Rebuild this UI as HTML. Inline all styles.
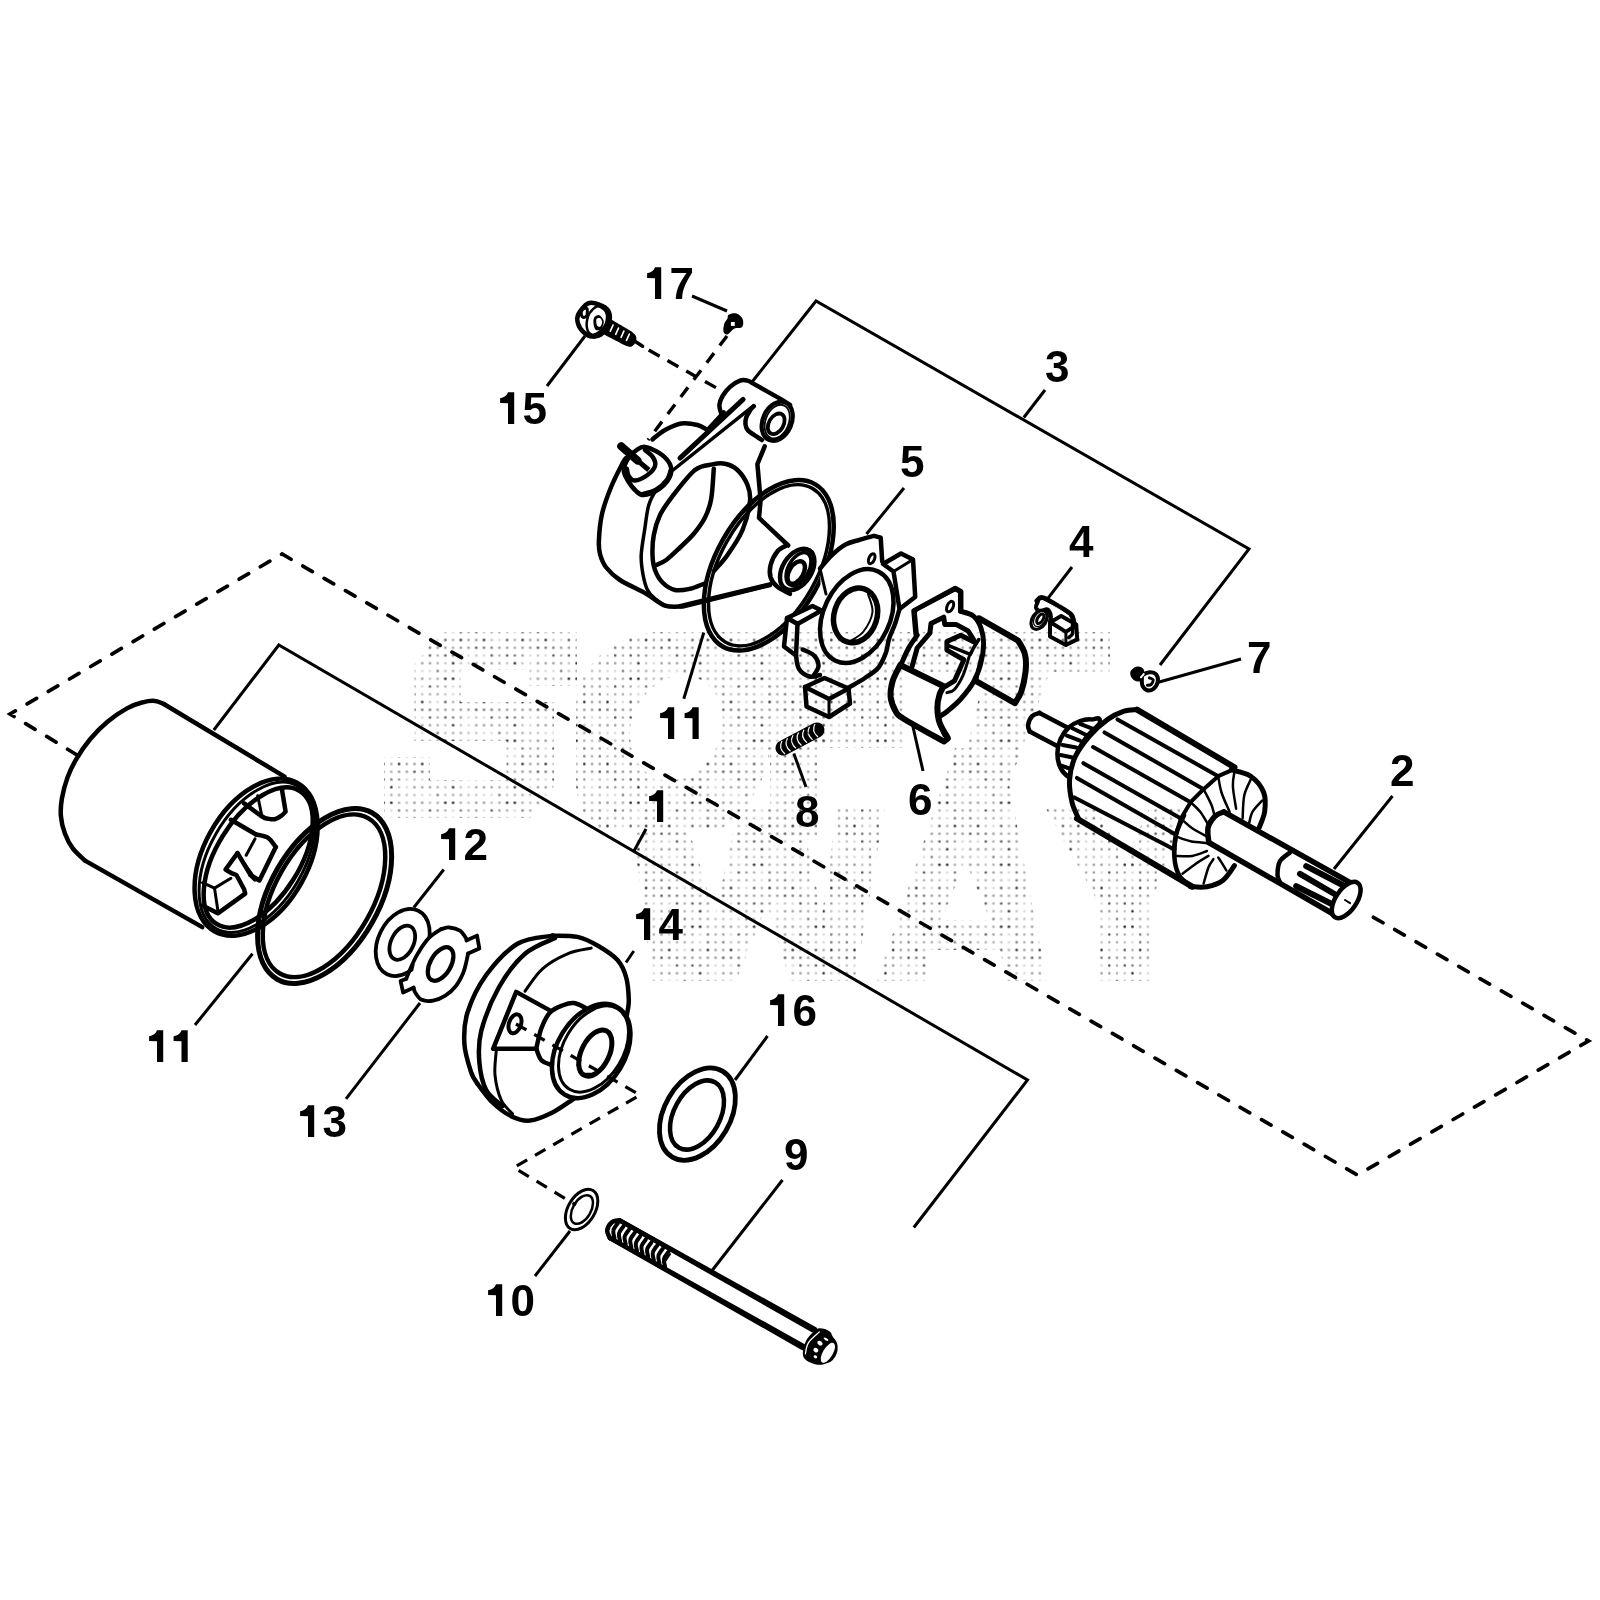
<!DOCTYPE html>
<html><head><meta charset="utf-8"><style>
html,body{margin:0;padding:0;background:#fff;}
svg{display:block;}
.lb{font-family:"Liberation Sans",sans-serif;font-weight:bold;font-size:44px;fill:#000;}
.ld{stroke:#000;stroke-width:3;fill:none;}
.ds{stroke:#000;stroke-width:3.5;fill:none;stroke-dasharray:15 9;}
.f{fill:#fff;stroke:none;}
.p{stroke:#000;stroke-width:4.5;fill:#fff;stroke-linejoin:round;stroke-linecap:round;}
.pn{stroke:#000;stroke-width:4.5;fill:none;stroke-linejoin:round;stroke-linecap:round;}
.pk{stroke:#000;stroke-width:6;fill:none;stroke-linejoin:round;stroke-linecap:round;}
.t{stroke:#000;stroke-width:3;fill:none;stroke-linecap:round;stroke-linejoin:round;}
.th{stroke:#000;stroke-width:2;fill:none;stroke-linecap:round;}
.bk{fill:#000;stroke:none;}
</style></head><body>
<svg width="1600" height="1600" viewBox="0 0 1600 1600">
<g id="dash">
<path class="ds" d="M77,755 L10,714 L282,554 L1357.5,1175 L1588.5,1041 L1366,913" style="stroke-linecap:round;stroke-dasharray:11 13.6;stroke-width:3.7"/>
</g>
<g id="cyl">
<path class="f" d="M85,860.6 L72.8,848.4 L64.9,833.5 L60.9,816 L61.9,798.5 L67.5,777.5 L76.3,759.1 L90.3,739 L107.8,721.5 L127,708.4 L142.8,702.3 L155,700.9 L163.8,704 L284.5,776.6 L256,857 L202.3,927.1 L85,860.6Z" />
<path class="pn" d="M85,860.6 C83,858.6 76.1,852.9 72.8,848.4 C69.4,843.9 66.9,838.9 64.9,833.5 C62.9,828.1 61.3,821.8 60.9,816 C60.4,810.2 60.8,804.9 61.9,798.5 C63,792.1 65.1,784.1 67.5,777.5 C69.9,770.9 72.5,765.5 76.3,759.1 C80,752.7 85,745.3 90.3,739 C95.5,732.7 101.6,726.6 107.8,721.5 C113.9,716.4 121.2,711.6 127,708.4 C132.8,705.2 138.1,703.5 142.8,702.3 C147.4,701 151.5,700.6 155,700.9 C158.5,701.1 162.3,703.5 163.8,704" />
<path class="pn" d="M163.8,704 L284.5,776.6" />
<path class="pn" d="M202.3,927.1 L85,860.6" />
<ellipse class="p" cx="256.1" cy="857.2" rx="85.1" ry="52.1" transform="rotate(119.1 256.1 857.2)" style="stroke-width:4.5"/>
<ellipse class="pn" cx="257" cy="857.3" rx="82.1" ry="47.3" transform="rotate(119.9 257 857.3)" style="stroke-width:3"/>
<ellipse class="pn" cx="258.2" cy="857.5" rx="78.4" ry="41.5" transform="rotate(122.1 258.2 857.5)" style="stroke-width:4.5"/>
<path class="pn" d="M244.1,803.4 C247.1,805.5 258.1,813.9 262.1,816.5 C266.1,819 266,818.2 268.1,818.7 C270.2,819.1 272.5,819.7 274.7,819.2 C276.9,818.8 279.4,817.2 281.2,815.9 C283.1,814.7 284.9,812.3 285.6,811.6 L281.7953625724598,788.5934594771957" />
<path class="t" d="M257.7,795.7 L261.6,814.8" />
<path class="pn" d="M230.9,819.8 L256.1,834.5 " />
<path class="pn" d="M256.1,834.5 C258.1,835.1 264.8,835.7 268.1,837.8 C271.4,839.9 274.5,845.6 275.8,847.1" />
<path class="pn" d="M275.8,847.1 L259.4,880.5 L250.6,875" />
<path class="t" d="M255,838.9 L246.2,855.3" />
<path class="pn" d="M237.5,853.1 L225.5,869.5 L230.9,872.8 L236.4,875 L244.1,889.2 L245.2,893.6 L217.8,913.3 L202.5,905.6" />
<path class="pn" d="M237.5,853.1 L250.6,875 L255,879.4" />
<path class="t" d="M239.7,857.5 L251.7,873.9" />
<path class="t" d="M202.5,882.7 L214.5,888.1 L230.9,878.3" />
<path class="t" d="M214.5,888.1 L217.8,910" />
</g>
<g id="ring11b">
<ellipse class="pn" cx="324.6" cy="896" rx="95.8" ry="54.5" transform="rotate(119.7 324.6 896)" style="stroke-width:5"/>
<ellipse class="pn" cx="324" cy="895.8" rx="89.3" ry="48.9" transform="rotate(119.6 324 895.8)" style="stroke-width:4.5"/>
</g>
<g id="wash12">
<ellipse class="p" cx="402.7" cy="942.5" rx="35.4" ry="24.5" transform="rotate(116.3 402.7 942.5)" style="stroke-width:3.8"/>
<ellipse class="pn" cx="402.3" cy="942.7" rx="18.2" ry="11.2" transform="rotate(116.2 402.3 942.7)" style="stroke-width:3.8"/>
</g>
<g id="wash13">
<ellipse class="f" cx="439.6" cy="964" rx="38.8" ry="23.5" transform="rotate(114.6 439.6 964)" />
<path class="pn" d="M441.2,929.1 C442.6,928.9 446.3,927.2 449.4,927.5 C452.5,927.8 457.1,928.9 459.9,930.7 C462.8,932.6 465.4,937.5 466.4,938.9" style="stroke-width:3.8"/>
<path class="pn" d="M466.4,940.5 L477,935.6 L479.4,948.6 L468.1,953.5" style="stroke-width:3.8"/>
<path class="pn" d="M468.1,953.5 C467.8,954.9 467.2,958.4 466.4,961.6 C465.6,964.9 464.9,968.9 463.2,973 C461.4,977.1 458.9,982.2 455.9,986 C452.9,989.8 449.1,993.3 445.3,995.7 C441.5,998.2 437.1,999.9 433.1,1000.6 C429.2,1001.3 424.7,1001.2 421.7,999.8 C418.8,998.5 416.6,994.5 415.2,992.5 C413.9,990.5 413.9,988.4 413.6,987.6" style="stroke-width:3.8"/>
<path class="pn" d="M413.6,987.6 L403.1,992.5 L400.6,981.1 L406.3,978.7" style="stroke-width:3.8"/>
<path class="pn" d="M406.3,978.7 C406.9,977.3 407.8,974.5 409.6,970.6 C411.3,966.6 414,960.1 416.9,955.1 C419.7,950.1 423.6,944.2 426.6,940.5 C429.6,936.8 432.3,935.1 434.7,933.2 C437.2,931.3 440.2,929.8 441.2,929.1" style="stroke-width:3.8"/>
<ellipse class="pn" cx="440.6" cy="964" rx="18.4" ry="10.3" transform="rotate(120.1 440.6 964)" style="stroke-width:4.2"/>
</g>
<g id="cover14">
<path class="f" d="M552.5,935.6 C542.5,936.8 528.5,937.2 517.5,943.8 C506.5,950.3 494.6,963.5 486.2,975 C477.9,986.5 471.1,1001 467.5,1012.5 C463.9,1024 463.8,1033.8 464.4,1043.8 C465,1053.8 467.6,1063.1 471.2,1072.5 C474.9,1081.9 480.6,1092.9 486.2,1100 C491.9,1107.1 498.8,1111.7 505,1115 C511.2,1118.3 516.5,1120.4 523.8,1120 C531,1119.6 540.4,1116 548.8,1112.5 C557.1,1109 566.5,1101.9 573.8,1098.8 C581,1095.6 585.2,1098.1 592.5,1093.8 C599.8,1089.4 611.2,1081.9 617.5,1072.5 C623.8,1063.1 628.1,1049.6 630,1037.5 C631.9,1025.4 629.4,1010 628.8,1000 C628.1,990 628.1,984.2 626.2,977.5 C624.4,970.8 622.1,965.2 617.5,960 C612.9,954.8 605.4,950.1 598.8,946.2 C592.1,942.4 585.2,938.6 577.5,936.9 C569.8,935.1 562.5,934.5 552.5,935.6Z" />
<path class="pn" d="M552.5,935.6 C546.7,937 528.5,937.2 517.5,943.8 C506.5,950.3 494.6,963.5 486.2,975 C477.9,986.5 471.1,1001 467.5,1012.5 C463.9,1024 463.8,1033.8 464.4,1043.8 C465,1053.8 469.1,1065.8 471.2,1072.5 C473.4,1079.2 476.5,1081.9 477.5,1083.8" />
<path class="pn" d="M555,938.1 C550,940.7 534.4,945.5 525,953.8 C515.6,962 506,974.6 498.8,987.5 C491.5,1000.4 484.5,1018.8 481.2,1031.2 C478,1043.8 478.5,1052.7 479.4,1062.5 C480.2,1072.3 482.4,1082.7 486.2,1090 C490.1,1097.3 499.8,1103.5 502.5,1106.2" />
<path class="pn" d="M552.5,935.6 C556.7,935.8 569.8,935.1 577.5,936.9 C585.2,938.6 592.1,942.4 598.8,946.2 C605.4,950.1 612.9,954.8 617.5,960 C622.1,965.2 624.4,970.8 626.2,977.5 C628.1,984.2 628.6,993.8 628.8,1000 C628.9,1006.2 627.2,1012.5 626.9,1015" />
<path class="pn" d="M477.5,1083.8 C480,1086.9 486.9,1097.1 492.5,1102.5 C498.1,1107.9 505,1113.2 511.2,1116.2 C517.5,1119.3 523.1,1121.2 530,1120.6 C536.9,1120 545.2,1116.1 552.5,1112.5 C559.8,1108.9 570.2,1101 573.8,1098.8" />
<path class="t" d="M591.2,948.1 C587.3,949.1 575.6,950.3 567.5,953.8 C559.4,957.2 549.6,962.5 542.5,968.8 C535.4,975 527.9,987.5 525,991.2" />
<path class="t" d="M496.2,1051.2 C496,1055.2 494.2,1066.9 495,1075 C495.8,1083.1 498.3,1093.5 501.2,1100 C504.2,1106.5 510.6,1111.5 512.5,1113.8" />
<path class="p" d="M552.5,1011.9 L516.2,991.9 L493.1,1048.8 L536.2,1048.8" />
<ellipse class="pn" cx="515" cy="1023.8" rx="9.8" ry="6" transform="rotate(109.2 515 1023.8)" style="stroke-width:4"/>
<path class="p" d="M536.2,1048.8 C537.1,1045.4 539,1034.8 541.2,1028.8 C543.5,1022.7 546.2,1016.5 550,1012.5 C553.8,1008.5 559.8,1006.6 563.8,1005 C567.7,1003.4 570.2,1002.7 573.8,1003.1 C577.3,1003.5 583.1,1006.8 585,1007.5" />
<path class="pn" d="M536.2,1048.8 C537.1,1050.6 538.8,1057.3 541.2,1060 C543.8,1062.7 549.6,1064.2 551.2,1065" />
<ellipse class="p" cx="591.2" cy="1051" rx="51" ry="33.9" transform="rotate(121.3 591.2 1051)" />
<ellipse class="pn" cx="593.5" cy="1049" rx="46.9" ry="29.6" transform="rotate(120.9 593.5 1049)" style="stroke-width:3"/>
<ellipse class="pn" cx="595.3" cy="1053.1" rx="24.8" ry="13.9" transform="rotate(116.1 595.3 1053.1)" style="stroke-width:5"/>
<path class="pn" d="M578.1,1065 C578.9,1066.5 580.1,1072.2 582.5,1073.8 C584.9,1075.3 590.8,1074.3 592.5,1074.4" style="stroke-width:3.5"/>
<path class="ds" d="M516,1024 L640,1095 L513.8,1167.5 L576,1205" style="stroke-width:3.2;stroke-dasharray:12 9"/>
</g>
<g id="ring16">
<ellipse class="pn" cx="697.4" cy="1114.1" rx="49.8" ry="33" transform="rotate(120.3 697.4 1114.1)" style="stroke-width:4.8"/>
<ellipse class="pn" cx="697" cy="1115" rx="37.3" ry="23" transform="rotate(118.8 697 1115)" style="stroke-width:4.5"/>
</g>
<g id="clip10">
<ellipse class="pn" cx="581.6" cy="1209.5" rx="22.2" ry="13.4" transform="rotate(121 581.6 1209.5)" style="stroke-width:3"/>
<ellipse class="pn" cx="581.9" cy="1209.5" rx="15.7" ry="9" transform="rotate(120.2 581.9 1209.5)" style="stroke-width:2.5"/>
</g>
<g id="bolt9">
<path class="f" d="M619.4,1220.3 L812.5,1330 L805,1346.9 L610,1238.1Z" />
<path class="pn" d="M619.4,1220.3 L812.5,1330" />
<path class="pn" d="M610,1238.1 L805,1346.9" />
<path class="pn" d="M619.4,1220.3 C618.1,1220.6 613.9,1220.5 611.9,1222.2 C609.8,1223.9 607.5,1228 607.2,1230.6 C606.9,1233.3 609.5,1236.9 610,1238.1" />
<path class="th" d="M617.9,1223.1 C617.1,1224.3 613.9,1227.8 613.4,1230.3 C612.8,1232.8 614.3,1236.8 614.5,1238.1" style="stroke-width:4"/>
<path class="th" d="M623.5,1226.3 C622.8,1227.5 619.6,1230.9 619,1233.4 C618.4,1235.9 619.9,1240 620.1,1241.3" style="stroke-width:4"/>
<path class="th" d="M629.1,1229.5 C628.4,1230.7 625.2,1234.1 624.6,1236.6 C624.1,1239.1 625.6,1243.2 625.8,1244.5" style="stroke-width:4"/>
<path class="th" d="M634.8,1232.7 C634,1233.9 630.8,1237.3 630.3,1239.8 C629.7,1242.3 631.2,1246.4 631.4,1247.7" style="stroke-width:4"/>
<path class="th" d="M640.4,1235.9 C639.6,1237.1 636.4,1240.5 635.9,1243 C635.3,1245.5 636.8,1249.6 637,1250.9" style="stroke-width:4"/>
<path class="th" d="M646,1239.1 C645.3,1240.3 642.1,1243.7 641.5,1246.2 C640.9,1248.7 642.4,1252.8 642.6,1254.1" style="stroke-width:4"/>
<path class="th" d="M651.6,1242.3 C650.9,1243.4 647.7,1246.9 647.1,1249.4 C646.6,1251.9 648.1,1255.9 648.3,1257.3" style="stroke-width:4"/>
<path class="th" d="M657.3,1245.4 C656.5,1246.6 653.3,1250.1 652.8,1252.6 C652.2,1255.1 653.7,1259.1 653.9,1260.4" style="stroke-width:4"/>
<path class="th" d="M662.9,1248.6 C662.1,1249.8 658.9,1253.3 658.4,1255.8 C657.8,1258.3 659.3,1262.3 659.5,1263.6" style="stroke-width:4"/>
<path class="th" d="M668.5,1251.8 C667.8,1253 664.6,1256.4 664,1258.9 C663.4,1261.4 664.9,1265.5 665.1,1266.8" style="stroke-width:4"/>
<path class="th" d="M670,1254.1 L664.4,1262.5" />
<path class="pn" d="M619.4,1220.3 L815,1329.2" />
<path class="pn" d="M610,1238.1 L802.8,1348" />
<path class="bk" d="M802.8,1353.8 C802.8,1350.5 804.1,1344.6 806.2,1340.6 C808.4,1336.6 813,1331.7 815.9,1329.7 C818.8,1327.7 821.4,1328.4 823.8,1328.8 C826.1,1329.2 828.8,1330.7 830.3,1331.9 C831.8,1333.1 831.4,1334.4 832.5,1336.2 C833.6,1338.1 836.1,1340.2 836.9,1342.8 C837.7,1345.4 838,1348.7 837.3,1351.6 C836.6,1354.5 834.8,1358.2 832.5,1360.3 C830.2,1362.4 826.7,1363.6 823.8,1364.2 C820.8,1364.9 817.9,1364.9 815,1364.2 C812.1,1363.6 808.3,1362 806.2,1360.3 C804.2,1358.5 802.8,1357 802.8,1353.8Z" />
<ellipse class="f" cx="827.9" cy="1352.8" rx="11.3" ry="4.9" transform="rotate(121.2 827.9 1352.8)" />
<ellipse cx="820.0" cy="1343.2" rx="2.8" ry="2.0" fill="#fff" transform="rotate(30 820.0 1343.2)"/>
<ellipse cx="815.9" cy="1350.1" rx="2.6" ry="2.2" fill="#fff" transform="rotate(30 815.9 1350.1)"/>
<ellipse cx="815.4" cy="1356.8" rx="1.9" ry="1.4" fill="#fff" transform="rotate(30 815.4 1356.8)"/>
<ellipse cx="826.0" cy="1339.2" rx="2.7" ry="1.1" fill="#fff" transform="rotate(30 826.0 1339.2)"/>
<path class="th" d="M805.4,1353.8 C805.9,1351.9 806.1,1346.4 808.4,1342.8 C810.7,1339.2 817.6,1333.7 819.4,1331.9" style="stroke:#fff;stroke-width:1.3"/>
</g>
<g id="housing">
<path class="f" d="M725,395 L742.5,380 L780,400 L792.5,420 L775,443.8 L763.8,445 L757.5,463.8 L762.5,482.5 L757.5,517.5 L785,545 L787.5,545 L814.4,562.5 L790,593.8 L770,584.4 L682.5,606.2 L665,605.6 L646.2,593.8 L620,580 L606.2,567.5 L600,550 L600,527.5 L606.2,505 L615,480 L623.8,470 L637.5,445 L652.5,439.4 L681.2,423.5 L707.5,430Z" />
<path class="pn" d="M626,458 C625.4,458.9 625,458.6 622.5,463.4 C620,468.2 614.5,478.6 611.1,487 C607.7,495.4 604,505.1 602,514 C600,522.9 599.2,533.9 598.9,540.6 C598.6,547.3 598.8,549.5 600,554 C601.2,558.5 602.9,563.2 606.2,567.5 C609.6,571.8 613.3,575.6 620,580 C626.7,584.4 638.8,589.5 646.2,593.8 C653.8,598 659,603.5 665,605.6 C671,607.7 679.6,606.4 682.5,606.5 L770.0,585.0" />
<path class="pn" d="M652.5,439.4 C654.6,437.8 660.2,432.6 665,430 C669.8,427.4 675.8,424.3 681.2,423.5 C686.7,422.7 693.1,423.9 697.5,425 C701.9,426.1 705.8,429.2 707.5,430 L723.75,412.5" />
<path class="pn" d="M721.2,413.5 C720.9,412.1 719.2,407.9 719.4,405 C719.6,402.1 720.7,399.3 722.5,396.2 C724.3,393.2 727.1,389.5 730,386.9 C732.9,384.3 737.1,381.7 740,380.6 C742.9,379.6 745.4,380.2 747.5,380.6 C749.6,381 751.7,382.7 752.5,383.1 L781.25,399.4 L790,405" />
<ellipse class="p" cx="777.2" cy="421.2" rx="20.5" ry="14.4" transform="rotate(114 777.2 421.2)" style="stroke-width:4.2"/>
<ellipse class="pn" cx="777.2" cy="421.6" rx="17.5" ry="11.6" transform="rotate(111.8 777.2 421.6)" style="stroke-width:1.8"/>
<ellipse class="pn" cx="776.2" cy="423.8" rx="11.1" ry="7.3" transform="rotate(120.1 776.2 423.8)" style="stroke-width:3.8"/>
<path class="pn" d="M753.8,406.2 C753.1,407 751.2,408.7 750,410.6 C748.8,412.5 747,415.1 746.2,417.5 C745.5,419.9 745.3,422.8 745.6,425 C745.9,427.2 746.5,428.9 748.1,430.6 C749.7,432.4 752.7,433.9 755,435.5 C757.3,437.1 760.8,439.2 761.9,440" />
<path class="pn" d="M743.1,399.4 L680,458.1" style="stroke-width:5"/>
<path class="pn" d="M753.1,406.2 L670,472.5 L670,472.5 C667.7,475.4 659.8,484.6 656.2,490 C652.7,495.4 650.6,498.8 648.8,505 C646.9,511.2 646.2,519.2 645,527.5 C643.8,535.8 641.6,547.1 641.2,555 C640.9,562.9 642.1,569.2 643.1,575 C644.2,580.8 645.5,586 647.5,590 C649.5,594 652.1,596.1 655,598.8 C657.9,601.4 663.3,604.5 665,605.6" style="stroke-width:3.5"/>
<path class="p" d="M645,446.9 C648.1,447.2 652.7,449.3 656.2,451.2 C659.8,453.2 663.8,455.8 666.2,458.8 C668.8,461.7 670.9,465.2 671.2,468.8 C671.6,472.3 670.4,476.5 668.1,480 C665.8,483.5 661.6,487.5 657.5,490 C653.4,492.5 647.3,494.8 643.8,495 C640.2,495.2 639,493.8 636.2,491.2 C633.5,488.8 629.6,483.5 627.5,480 C625.4,476.5 623.5,473.8 623.8,470 C624,466.2 626.5,460.9 628.8,457.5 C631,454.1 634.8,451.1 637.5,449.4 C640.2,447.6 641.9,446.6 645,446.9Z" />
<path class="pn" d="M645,450 C646.4,451.2 651.5,454.8 653.1,457.5 C654.8,460.2 655.9,463.3 655,466.2 C654.1,469.2 650.8,472.6 647.5,475 C644.2,477.4 638.1,480.4 635,480.6 C631.9,480.8 630.1,478.2 628.8,476.2 C627.4,474.3 627.2,470 626.9,468.8" />
<path class="th" d="M641.2,493.1 C643.5,492.4 650.8,491.1 655,488.8 C659.2,486.4 663.9,481.9 666.2,478.8 C668.6,475.6 668.9,471.5 669.4,470" />
<path class="pn" d="M621.2,446.2 L637.5,460.6" style="stroke-width:8;stroke-linecap:round"/>
<path class="pn" d="M636.2,459.4 L648.8,470" style="stroke-width:5;stroke-linecap:butt"/>
<path class="pn" d="M703.8,583.8 C701.5,584.6 694.8,587.7 690,588.8 C685.2,589.8 679.6,591 675,590 C670.4,589 665.8,585.8 662.5,582.5 C659.2,579.2 656.7,574.6 655,570 C653.3,565.4 652.7,560.8 652.5,555 C652.3,549.2 652.5,541.7 653.8,535 C655,528.3 656.9,521.5 660,515 C663.1,508.5 666.7,503.8 672.5,496.2 C678.3,488.8 688.3,475.3 695,470 C701.7,464.7 707.5,465.4 712.5,464.4 C717.5,463.3 720.8,462.8 725,463.8 C729.2,464.7 733.8,466.5 737.5,470 C741.2,473.5 745.4,479.8 747.5,485 C749.6,490.2 750.8,493.8 750,501.2 C749.2,508.8 746.2,521 742.5,530 C738.8,539 732.3,548.1 727.5,555 C722.7,561.9 716,568.5 713.8,571.2" />
<path class="pn" d="M713.8,468.8 C713.3,473.8 712.7,490.6 711.2,498.8 C709.8,506.9 707.9,511.7 705,517.5 C702.1,523.3 697.9,528.8 693.8,533.8 C689.6,538.8 684.6,543.1 680,547.5 C675.4,551.9 670.2,557.1 666.2,560 C662.3,562.9 657.9,564.2 656.2,565" />
<path class="pn" d="M764.7,446.4 L757.4,464.2 L760.6,500 L759,517.9 L788.2,545.5" />
<path class="p" d="M787.5,545 C785.8,546 780.3,547.9 777.5,551.2 C774.7,554.6 771.8,560.6 770.6,565 C769.5,569.4 769.5,573.9 770.6,577.5 C771.8,581.1 774.3,584.2 777.5,586.9 C780.7,589.6 787.9,592.6 790,593.8" />
<path class="pn" d="M770,584.4 L680,606.2" />
<ellipse class="p" cx="797.2" cy="569.4" rx="22.6" ry="14.5" transform="rotate(122.2 797.2 569.4)" />
<ellipse class="pn" cx="798.5" cy="569" rx="17.9" ry="10.3" transform="rotate(118.7 798.5 569)" style="stroke-width:3.5"/>
<ellipse class="pn" cx="796.2" cy="572.5" rx="12.4" ry="7.1" transform="rotate(120.5 796.2 572.5)" style="stroke-width:4.5"/>
</g>
<g id="ring11t">
<ellipse class="pn" cx="768.8" cy="565.3" rx="93.4" ry="52.6" transform="rotate(119.6 768.8 565.3)" style="stroke-width:4.5"/>
<ellipse class="pn" cx="769" cy="565.3" rx="88.3" ry="48.4" transform="rotate(119.4 769 565.3)" style="stroke-width:3.5"/>
</g>
<g id="bolt15">
<path class="ds" d="M648.7,350.1 L705,381.6 L726.4,393.4" style="stroke-width:3.4;stroke-dasharray:12.5 9"/>
<path class="pn" d="M633,340 L642.6,346.2" style="stroke-width:3.5"/>
<path class="bk" d="M595.9,316.4 C597.5,314.9 600.2,314.1 603.7,315.2 C607.3,316.4 612.4,320.2 617.2,323.1 C622.1,326 629.8,330.1 633,332.7 C636.2,335.3 636.4,336.7 636.4,338.9 C636.4,341 634.5,344.4 633,345.6 C631.5,346.8 630.7,347.3 627.4,346.2 C624,345.1 617.6,341.4 612.7,338.9 C607.9,336.3 601.2,333.4 598.1,331 C595,328.6 594.6,326.7 594.2,324.2 C593.8,321.8 594.3,317.9 595.9,316.4Z" />
<path class="pn" d="M607.7,322 L604.9,328.2" style="stroke:#fff;stroke-width:1.6"/>
<path class="pn" d="M613.1,325 L610.3,331.2" style="stroke:#fff;stroke-width:1.6"/>
<path class="pn" d="M618.5,328.1 L615.7,334.3" style="stroke:#fff;stroke-width:1.6"/>
<path class="pn" d="M623.9,331.1 L621.1,337.3" style="stroke:#fff;stroke-width:1.6"/>
<path class="pn" d="M629.3,334.1 L626.5,340.3" style="stroke:#fff;stroke-width:1.6"/>
<path class="p" d="M588,303.4 C591.5,301.8 595.9,303.3 599.2,304.6 C602.6,305.8 606.6,308 608.2,310.7 C609.9,313.5 610.3,317.1 609.4,320.9 C608.4,324.6 605.4,330.6 602.6,333.2 C599.8,335.9 595.7,336.8 592.5,336.6 C589.3,336.4 585.9,334.4 583.5,332.1 C581.1,329.9 578.7,326.1 577.9,323.1 C577,320.1 576.7,317.4 578.4,314.1 C580.1,310.8 584.5,305 588,303.4Z" style="stroke-width:4.5"/>
<path class="pn" d="M598.1,306.2 C600.4,306.6 604.7,309.1 606,311.9 C607.3,314.7 607.1,319.7 606,323.1 C604.9,326.5 601.7,330.2 599.2,332.1 C596.8,334 593.4,335.1 591.4,334.4 C589.3,333.6 587.4,330.6 586.9,327.6 C586.3,324.6 587.1,319.4 588,316.4 C588.9,313.4 590.8,311.3 592.5,309.6 C594.2,307.9 595.9,305.9 598.1,306.2Z" style="stroke-width:2.5"/>
<path class="pn" d="M582.4,309.6 C583.3,308.7 586.1,307.6 586.9,308.5 C587.6,309.4 587.4,313.7 586.9,315.2 C586.3,316.7 584.4,317.7 583.5,317.5 C582.6,317.3 581.4,315.4 581.2,314.1 C581.1,312.8 581.4,310.6 582.4,309.6Z" style="stroke-width:3"/>
<path class="bk" d="M594.2,317.5 C595.1,316 597.7,314.7 599.2,315.2 C600.8,315.8 603.4,318.6 603.7,320.9 C604.1,323.1 602.8,327.2 601.5,328.7 C600.2,330.2 597.2,330.6 595.9,329.9 C594.6,329.1 593.9,326.3 593.6,324.2 C593.3,322.2 593.2,319 594.2,317.5Z" />
<path class="f" d="M596.4,319.2 C596.9,318 598.9,317.6 599.8,318.1 C600.7,318.5 602,320.6 602.1,322 C602.2,323.4 601.2,325.9 600.4,326.5 C599.5,327.1 597.7,326.6 597,325.4 C596.3,324.2 596,320.4 596.4,319.2Z" />
</g>
<g id="screw17">
<path class="ds" d="M727,336 L648,440" style="stroke-width:3.4;stroke-dasharray:12 9.5"/>
<path class="bk" d="M728.6,314.7 C730.1,313.8 734.2,312.8 736.5,313.6 C738.8,314.3 741.7,316.9 742.7,319.2 C743.6,321.4 743.5,325.5 742.1,327.1 C740.7,328.7 736.7,327.5 734.2,328.7 C731.8,330 729.3,333.8 727.5,334.4 C725.7,334.9 724.1,333.8 723.6,332.1 C723,330.4 723.5,326.5 724.1,324.2 C724.8,322 726.7,320.2 727.5,318.6 C728.2,317 727.1,315.5 728.6,314.7Z" />
<path class="f" d="M730.9,322 L734.8,322 L734.8,325.9 L730.9,325.9Z" />
</g>
<g id="plate5">
<path class="f" d="M820,568.5 L842.5,546 L859,540 L874,535.5 L880.7,537.7 L882.2,561.7 L901,553.5 L913,559.5 L915.2,597 L899.5,609 L889,639 L886,652.5 L880,667.5 L859,681 L848.5,688.5 L829,699 L805,687 L811,678 L800.5,673.5 L796,655.5 L784,646.5 L787,618 L812.5,606 L821.5,607.5Z" />
<path class="pn" d="M820,568.5 C822,566.2 827.7,559 832,555 C836.2,551 841,547 845.5,544.5 C850,542 854.2,541.4 859,540 C863.7,538.5 871.5,536.5 874,535.8 L874,535.8 L880.7,537.7 L882.2,561.7" />
<path class="t" d="M820,568.5 L826,594" />
<path class="p" d="M883,564 L901,553.5 L913,559.5 L915.2,597 L899.5,609 L893.5,571.5Z" />
<path class="t" d="M893.5,571.5 L913,559.5" />
<path class="pn" d="M899.5,609 C898.7,611.5 896.7,619 895,624 C893.2,629 890.5,634.2 889,639 C887.5,643.7 887.7,647.7 886,652.5 C884.2,657.2 882,663.2 878.5,667.5 C875,671.7 870,674.6 865,678 C860,681.4 851.2,686.1 848.5,687.7" />
<path class="p" d="M787,618 L812.5,606 L821.5,610.5 L797.5,624Z" />
<path class="p" d="M787,618 L784,646.5 L796,655.5 L797.5,624Z" />
<path class="pn" d="M796,655.5 C796.5,657.7 796.7,665.5 799,669 C801.2,672.5 806,675.5 809.5,676.5 C813,677.5 818.2,675.2 820,675" />
<path class="pn" d="M802.7,649.5 C804.6,650.5 811.4,652.7 814,655.5 C816.6,658.2 818.5,662.7 818.5,666 C818.5,669.2 814.7,673.5 814,675" />
<ellipse class="p" cx="856.8" cy="616.1" rx="49.5" ry="33.1" transform="rotate(115.6 856.8 616.1)" />
<ellipse class="pn" cx="855.6" cy="615.4" rx="27.9" ry="21.4" transform="rotate(107.7 855.6 615.4)" style="stroke-width:5.5"/>
<path class="th" d="M868,594 C868.7,597 873.2,605.7 872.5,612 C871.7,618.2 867.2,626.6 863.5,631.5 C859.7,636.4 852.2,639.6 850,641.2" />
<ellipse class="pn" cx="871.7" cy="558.7" rx="5.3" ry="2.8" transform="rotate(113.4 871.7 558.7)" style="stroke-width:3"/>
<path class="p" d="M805,687 L824.5,678 L848.5,688.5 L850,703.5 L829,717 L806.5,706.5Z" />
<path class="pn" d="M805,687 L829,699 L848.5,688.5" />
<path class="t" d="M829,699 L829,717" />
</g>
<g id="holder6">
<path class="p" d="M978.8,618.2 L1018.1,640.6 L1018.1,640.6 C1019.3,642.9 1023.8,649.2 1025,654.4 C1026.3,659.5 1026.2,665.2 1025.6,671.4 C1024.9,677.6 1023.1,686.2 1021.3,691.6 C1019.5,696.9 1016,701.3 1014.9,703.2 L975.6226094347642,680.9349766255843Z" style="stroke-width:6"/>
<path class="f" d="M916.1,633.1 L914,610.8 L955.4,588.5 L960.7,591.7 L960.7,610.8 L965,611.9 L978.8,619.3 L982,643.7 L973.5,684.1 L943.7,686.2 L900.2,665 L907.6,648Z" />
<path class="pn" d="M916.1,634.2 L914,610.8 L955.4,588.5 L960.7,591.7 L960.7,610.8" style="stroke-width:5.5"/>
<path class="th" d="M918.2,611.9 L954.4,592.7" style="stroke:#fff;stroke-width:1.2"/>
<ellipse class="pn" cx="950.1" cy="606.6" rx="5.6" ry="3" transform="rotate(114.9 950.1 606.6)" style="stroke-width:3"/>
<path class="pn" d="M960.7,611.3 C962.9,612.1 970.1,613.4 973.5,616.1 C976.9,618.9 979.3,623.2 980.9,627.8 C982.6,632.4 983.6,637.9 983.6,643.7 C983.6,649.6 982.6,656.5 980.9,662.9 C979.3,669.2 976.9,676 973.5,682 C970.1,688 965,694.2 960.7,699 C956.5,703.8 951.4,707.9 948,710.7 C944.6,713.5 941.8,715.1 940.6,716" style="stroke-width:5"/>
<path class="pn" d="M917.2,635.2 C915.8,637.4 911.3,643.2 908.7,648 C906,652.8 902.5,661.3 901.2,663.9" style="stroke-width:5"/>
<path class="th" d="M915.1,637.4 C913.5,639.9 908,647.6 905.5,652.2 C903,656.9 901.1,662.9 900.2,665" />
<path class="pn" d="M911.9,667.1 L917.2,648 L929.9,633.1 L931,623.6 L943.7,617.2 L944.8,624.6 L956.5,624.6 L968.2,631 L973.5,639.5" style="stroke-width:5"/>
<path class="pn" d="M975.6,642.7 L960.7,635.2 L946.9,641.6 L946.9,650.1 L963.9,659.7 L954.4,680.9 L945.9,686.2" style="stroke-width:5"/>
<path class="pn" d="M949.1,645.9 L970.3,654.4 L973.5,648 L978.8,639.5" style="stroke-width:3.5"/>
<path class="pn" d="M969.2,656.5 C968.2,659.7 965.4,670.1 962.9,675.6 C960.4,681.1 957,686.6 954.4,689.4 C951.7,692.3 948.2,692.1 946.9,692.6" style="stroke-width:3"/>
<path class="p" d="M900.2,665 L943.7,686.2 L943.7,686.2 C943,687.7 940.6,691.2 939.5,694.7 C938.4,698.3 937.4,702.9 937.4,707.5 C937.4,712.1 937.7,717.2 939.5,722.4 C941.3,727.5 946.6,735.7 948,738.3 L943.7484062898427,741.495962600935 L943.7,741.5 C937.2,737.8 912.4,724.1 904.4,719.2 C896.5,714.2 898.2,715.5 895.9,711.7 C893.6,708 891.2,702 890.6,696.9 C890.1,691.7 891.2,686.2 892.7,680.9 C894.3,675.6 898.9,667.7 900.2,665" style="stroke-width:6"/>
<path class="th" d="M940.6,689.4 C940,692.4 937.7,701.8 937.4,707.5 C937,713.2 937.4,718.7 938.4,723.4 C939.5,728.2 942.9,734.1 943.7,736.2" />
</g>
<g id="clip4">
<path class="pn" d="M1036.9,600.9 C1037.8,600.4 1039.1,596.9 1042.5,597.7 C1045.9,598.4 1052.8,602.9 1057.5,605.6 C1062.2,608.4 1068,611.6 1070.6,614.1 C1073.3,616.6 1072.8,618.4 1073.4,620.6 C1074.1,622.8 1074.2,626.1 1074.4,627.2" style="stroke-width:5"/>
<path class="th" d="M1042.5,600.5 C1045,601.8 1053.1,605.9 1057.5,608.4 C1061.9,611 1066.9,614.7 1068.7,615.9" style="stroke:#fff;stroke-width:1"/>
<path class="pn" d="M1037.8,601.9 C1037.5,602.8 1035.5,605.9 1035.9,607.5 C1036.4,609.1 1038.7,610.9 1040.6,611.2 C1042.5,611.6 1045.5,608.6 1047.2,609.4 C1048.9,610.2 1050.5,613.9 1050.9,615.9 C1051.4,618 1050.2,620.6 1050,621.6" style="stroke-width:4"/>
<ellipse class="p" cx="1039.2" cy="619.7" rx="10.5" ry="7" transform="rotate(123.3 1039.2 619.7)" style="stroke-width:3.2"/>
<ellipse class="pn" cx="1039.8" cy="619" rx="8.4" ry="5.3" transform="rotate(122.3 1039.8 619)" style="stroke-width:1.2"/>
<ellipse class="pn" cx="1040.3" cy="618.8" rx="5.4" ry="2.7" transform="rotate(121.2 1040.3 618.8)" style="stroke-width:3"/>
<path class="p" d="M1050,622.5 L1061.2,615.9 L1076.2,624.4 L1077.2,639.4 L1065.9,645 L1050,636.6Z" style="stroke-width:4"/>
<path class="pn" d="M1050.9,622.5 L1065.9,631.9 L1076.2,625.3" style="stroke-width:4"/>
<path class="t" d="M1065.9,631.9 L1065.9,645" />
<path class="pn" d="M1072.5,624.4 C1072.5,625.9 1073.1,631.6 1072.5,633.7 C1071.9,635.9 1069.4,636.9 1068.7,637.5" style="stroke-width:3.5"/>
</g>
<g id="screw7">
<path class="bk" d="M1130.6,671.2 C1131.6,669.4 1135,666.9 1137.2,666.6 C1139.4,666.2 1142.7,667.3 1143.7,669.4 C1144.8,671.4 1144.8,676.7 1143.7,678.7 C1142.7,680.8 1139.2,681.7 1137.2,681.6 C1135.2,681.4 1132.7,679.5 1131.6,677.8 C1130.5,676.1 1129.7,673.1 1130.6,671.2Z" />
<path class="p" d="M1142.8,675 C1144.1,673.9 1147.2,672.3 1149.4,672.2 C1151.6,672 1154.5,672.5 1155.9,674.1 C1157.3,675.6 1158.3,679.1 1157.8,681.6 C1157.3,684.1 1155,687.7 1153.1,689.1 C1151.2,690.5 1148.4,690.6 1146.6,690 C1144.8,689.4 1143.1,687.2 1142.3,685.3 C1141.6,683.4 1141.8,680.5 1141.9,678.7 C1141.9,677 1141.6,676.1 1142.8,675Z" style="stroke-width:4"/>
<path class="pn" d="M1149.4,677.8 C1150,678.1 1152.8,678.6 1153.1,679.7 C1153.4,680.8 1152.2,683.4 1151.2,684.4 C1150.3,685.3 1148.1,685.2 1147.5,685.3" style="stroke-width:3"/>
<path class="th" d="M1140.9,677.3 L1143.7,674.1" style="stroke:#fff;stroke-width:2"/>
</g>
<g id="spring8">
<line x1="783" y1="748" x2="817" y2="730" stroke="#000" stroke-width="15" stroke-linecap="round"/>
<path d="M782.0,741.0 Q778.0,748.0 785.0,754.0" stroke="#fff" stroke-width="1.2" fill="none"/>
<path d="M787.5,738.2 Q783.5,745.2 790.5,751.2" stroke="#fff" stroke-width="1.2" fill="none"/>
<path d="M793.0,735.3 Q789.0,742.3 796.0,748.3" stroke="#fff" stroke-width="1.2" fill="none"/>
<path d="M798.5,732.5 Q794.5,739.5 801.5,745.5" stroke="#fff" stroke-width="1.2" fill="none"/>
<path d="M804.0,729.7 Q800.0,736.7 807.0,742.7" stroke="#fff" stroke-width="1.2" fill="none"/>
<path d="M809.5,726.8 Q805.5,733.8 812.5,739.8" stroke="#fff" stroke-width="1.2" fill="none"/>
<path d="M815.0,724.0 Q811.0,731.0 818.0,737.0" stroke="#fff" stroke-width="1.2" fill="none"/>
</g>
<g id="arm2">
<path class="f" d="M1039.5,712.9 L1068.7,727.5 L1059,747 L1029.7,730.7Z" />
<path class="pn" d="M1039.5,712.9 L1068.7,728.3" />
<path class="pn" d="M1029.7,731.6 L1059,747" />
<path class="pn" d="M1039.5,712.9 C1038.3,713.4 1034.1,714.1 1032.2,716.1 C1030.3,718.2 1028.5,722.5 1028.1,725.1 C1027.7,727.6 1029.5,730.5 1029.7,731.6" />
<path class="p" d="M1099.6,724.2 C1101.8,714.2 1094.7,719.9 1091.5,719.4 C1088.2,718.8 1083.9,719.6 1080.1,721 C1076.3,722.4 1072,724.5 1068.7,727.5 C1065.5,730.5 1062.5,734.5 1060.6,738.9 C1058.7,743.2 1057.4,748.6 1057.4,753.5 C1057.4,758.4 1058.7,764.2 1060.6,768.1 C1062.5,772.1 1065.8,775.2 1068.7,777.1 C1071.7,779 1073.4,788.3 1078.5,779.5 C1083.6,770.7 1097.5,734.3 1099.6,724.2Z" />
<path class="pn" d="M1061.2,765.6 L1071,769" style="stroke-width:4"/>
<path class="pn" d="M1060.6,755 L1072.5,757.5" style="stroke-width:4"/>
<path class="pn" d="M1062.5,745 L1076.2,747.5" style="stroke-width:4"/>
<path class="pn" d="M1066.9,735.6 L1080,740.6" style="stroke-width:4"/>
<path class="pn" d="M1071.9,728 L1086.2,735" style="stroke-width:4"/>
<path class="pn" d="M1080,723.8 L1093,728.8" style="stroke-width:4"/>
<path class="pn" d="M1098.7,725.1 C1096.9,726.9 1090.7,732.3 1087.4,736.3 C1084.2,740.2 1081.6,744.4 1079.4,748.8 C1077.2,753.1 1075.4,757.6 1074.4,762.4 C1073.3,767.3 1073.2,775.4 1073,778" style="stroke-width:5"/>
<path class="f" d="M1117.5,712.9 C1124.3,709.9 1113.7,699.1 1137,709.6 C1160.3,720.2 1235.8,761.4 1257.2,776.2 C1278.6,791.1 1264.6,790.9 1265.4,799 C1266.2,807.1 1267.8,812.5 1262.1,825 C1256.4,837.5 1243.2,863.5 1231.2,873.7 C1219.3,884 1216.3,896 1190.6,886.7 C1164.9,877.5 1096.9,836.9 1076.9,818.5 C1056.8,800.1 1070.1,787.4 1070.4,776.2 C1070.6,765.1 1074.2,760 1078.5,751.9 C1082.8,743.7 1089.9,734 1096.4,727.5 C1102.9,721 1110.7,715.9 1117.5,712.9Z" />
<path class="pn" d="M1190.6,886.7 C1188.7,884.8 1182,880.2 1179.2,875.4 C1176.5,870.5 1174.9,864.3 1174.4,857.5 C1173.8,850.7 1174.4,841.8 1176,834.7 C1177.6,827.7 1182.8,818.5 1184.1,815.2" />
<path class="pn" d="M1078.5,818.5 C1077.4,815.8 1073.5,808.7 1072,802.2 C1070.5,795.7 1069,787.1 1069.6,779.5 C1070.1,771.9 1071.9,764.1 1075.2,756.7 C1078.6,749.4 1084.5,741.9 1089.9,735.6 C1095.3,729.4 1102.1,723.4 1107.7,719.4 C1113.4,715.3 1119.1,712.9 1124,711.2 C1128.9,709.6 1134.8,709.9 1137,709.6" style="stroke-width:5"/>
<path class="pn" d="M1137,709.6 L1234.5,767.3" style="stroke-width:6"/>
<path class="pn" d="M1076.9,818.5 L1192.2,886.7" style="stroke-width:6"/>
<path class="pn" d="M1117.5,719.4 L1218.2,776.2" style="stroke-width:4"/>
<path class="pn" d="M1104.5,732.4 L1203.6,789.2" style="stroke-width:4"/>
<path class="pn" d="M1093.1,747 L1190.6,802.2" style="stroke-width:4"/>
<path class="pn" d="M1083.4,763.2 L1180.9,818.5" style="stroke-width:4"/>
<path class="pn" d="M1076.9,777.9 L1176,834.7" style="stroke-width:4"/>
<path class="pn" d="M1074.4,797.4 L1174.4,849.4" style="stroke-width:4"/>
<path class="pn" d="M1232.9,769.7 L1218.2,776.2 L1203.6,789.2 L1190.6,802.2 L1180.9,818.5 L1176,834.7 L1174.4,849.4" style="stroke-width:4"/>
<path class="pn" d="M1231.2,769.7 C1234.5,770.8 1245.3,772.5 1250.7,776.2 C1256.2,780 1261.4,786.5 1263.7,792.5 C1266,798.5 1265.4,806 1264.6,812 C1263.7,818 1259.8,825.5 1258.9,828.2" style="stroke-width:5"/>
<path class="pn" d="M1234.5,865.6 C1232.6,868.1 1227.7,876.7 1223.1,880.2 C1218.5,883.8 1212.3,885.7 1206.9,886.7 C1201.5,887.8 1193.3,886.7 1190.6,886.7" style="stroke-width:5"/>
<path class="th" d="M1218.2,776.2 C1218.8,779 1219.6,786.5 1221.5,792.5 C1223.4,798.5 1228.3,808.7 1229.6,812" style="stroke-width:2.5"/>
<path class="th" d="M1234.5,771.4 C1234.2,773.8 1232.6,779.8 1232.9,786 C1233.1,792.2 1235.6,805 1236.1,808.7" style="stroke-width:2.5"/>
<path class="th" d="M1250.7,779.5 C1249.7,782.2 1245.6,789.2 1244.2,795.7 C1242.9,802.2 1242.9,814.7 1242.6,818.5" style="stroke-width:2.5"/>
<path class="th" d="M1262.1,800.6 C1260.5,802.5 1254.5,808.2 1252.4,812 C1250.2,815.8 1249.7,821.5 1249.1,823.4" style="stroke-width:2.5"/>
<path class="th" d="M1203.6,789.2 C1205,792 1209.8,800.6 1211.7,805.5 C1213.6,810.4 1214.5,816.3 1215,818.5" style="stroke-width:2.5"/>
<path class="th" d="M1190.6,802.2 C1192.2,803.9 1197.4,808.2 1200.4,812 C1203.3,815.8 1207.1,822.8 1208.5,825" style="stroke-width:2.5"/>
<path class="th" d="M1180.9,818.5 C1182.8,820.1 1187.9,825.3 1192.2,828.2 C1196.6,831.2 1204.4,835 1206.9,836.4" style="stroke-width:2.5"/>
<path class="th" d="M1176,836.4 C1178.4,837.2 1185.5,840.2 1190.6,841.2 C1195.8,842.3 1204.2,842.6 1206.9,842.9" style="stroke-width:2.5"/>
<path class="th" d="M1174.4,855.9 C1177.4,855.9 1186.8,856.7 1192.2,855.9 C1197.7,855.1 1204.4,851.8 1206.9,851" style="stroke-width:2.5"/>
<path class="th" d="M1182.5,873.7 C1184.7,872.1 1191.2,867 1195.5,864 C1199.8,861 1206.3,857.2 1208.5,855.9" style="stroke-width:2.5"/>
<path class="th" d="M1203.6,883.5 C1204.4,880.8 1206.9,871.3 1208.5,867.2 C1210.1,863.2 1212.6,860.5 1213.4,859.1" style="stroke-width:2.5"/>
<path class="th" d="M1226.4,870.5 C1225.6,869.1 1222.8,864.5 1221.5,862.4 C1220.1,860.2 1218.8,858.3 1218.2,857.5" style="stroke-width:2.5"/>
<path class="f" d="M1223.8,811.9 L1292.5,851.2 L1352.5,882.5 L1335,915 L1280,882.5 L1208.8,842.5 L1208.1,827.5 L1215,816.2Z" />
<path class="pn" d="M1223.8,811.9 L1352.5,883.8" style="stroke-width:5.5"/>
<path class="pn" d="M1208.8,842.5 L1335,915" style="stroke-width:5.5"/>
<path class="pn" d="M1223.8,811.9 C1222.3,812.6 1217.6,813.6 1215,816.2 C1212.4,818.9 1209.2,823.1 1208.1,827.5 C1207.1,831.9 1208.6,840 1208.8,842.5" style="stroke-width:5.5"/>
<path class="pn" d="M1290,852.5 C1288.3,854 1282.1,857.5 1280,861.2 C1277.9,865 1277.5,871.5 1277.5,875 C1277.5,878.5 1279.6,881.2 1280,882.5" />
<path class="pn" d="M1306.2,866.2 L1342.5,885" style="stroke-width:6"/>
<path class="pn" d="M1300,873.8 L1336.2,895" style="stroke-width:6"/>
<path class="pn" d="M1296.2,886.2 L1331.2,903.8" style="stroke-width:6"/>
<ellipse class="p" cx="1346.2" cy="900" rx="20.6" ry="10.5" transform="rotate(123.7 1346.2 900)" />
<path class="th" d="M1345,900 L1350,903.1" />
</g>
<g id="leaders">
<path class="ld" d="M213.8,730 L278.8,645 L1027.5,1080 L913.8,1227.5" />
<path class="ld" d="M752,382 L816,301 L1249,549 L1160,665" />
<path class="ld" d="M692,296 L727,311" />
<path class="ld" d="M585,336 L547,386" />
<path class="ld" d="M1045,390 L1023.8,417.5" />
<path class="ld" d="M1072,567 L1047.5,598.8" />
<path class="ld" d="M904,488 L866.5,534" />
<path class="ld" d="M683.8,698.8 L703.8,632.5" />
<path class="ld" d="M1241,659 L1157.5,682.5" />
<path class="ld" d="M1392.5,796 L1334,869" />
<path class="ld" d="M806,787 L793.8,753.4" />
<path class="ld" d="M923,771 L912.8,726" />
<path class="ld" d="M646,829 L634,851" />
<path class="ld" d="M443.8,869.5 L413.8,907.5" />
<path class="ld" d="M633.8,951 L626,962.5" />
<path class="ld" d="M195,1025 L252.5,953.8" />
<path class="ld" d="M346,1098.8 L420,1003" />
<path class="ld" d="M767.5,1036 L735,1080" />
<path class="ld" d="M782.5,1180 L712.5,1270" />
<path class="ld" d="M535,1276 L570,1231" />
</g>
<g id="labels">
<path class="bk" d="M655.0,267.3 L661.2,267.3 L661.2,299.0 L655.0,299.0 L655.0,278.3 L647.1,277.9 L647.1,273.3 C651.0,272.5 654.0,270.8 655.0,267.3Z"/>
<text class="lb" x="669.5" y="299">7</text>
<path class="bk" d="M508.0,392.3 L514.2,392.3 L514.2,424.0 L508.0,424.0 L508.0,403.3 L500.1,402.9 L500.1,398.3 C504.0,397.5 507.0,395.8 508.0,392.3Z"/>
<text class="lb" x="522.5" y="424">5</text>
<text class="lb" x="1045.0" y="382">3</text>
<text class="lb" x="900.0" y="477">5</text>
<text class="lb" x="1069.0" y="557">4</text>
<path class="bk" d="M668.0,707.3 L674.2,707.3 L674.2,739.0 L668.0,739.0 L668.0,718.3 L660.1,717.9 L660.1,713.3 C664.0,712.5 667.0,710.8 668.0,707.3Z"/>
<path class="bk" d="M692.5,707.3 L698.7,707.3 L698.7,739.0 L692.5,739.0 L692.5,718.3 L684.6,717.9 L684.6,713.3 C688.5,712.5 691.5,710.8 692.5,707.3Z"/>
<text class="lb" x="1247.0" y="673">7</text>
<text class="lb" x="1390.0" y="786">2</text>
<text class="lb" x="795.0" y="827">8</text>
<text class="lb" x="908.0" y="815">6</text>
<path class="bk" d="M657.0,790.3 L663.2,790.3 L663.2,822.0 L657.0,822.0 L657.0,801.3 L649.1,800.9 L649.1,796.3 C653.0,795.5 656.0,793.8 657.0,790.3Z"/>
<path class="bk" d="M449.0,828.3 L455.2,828.3 L455.2,860.0 L449.0,860.0 L449.0,839.3 L441.1,838.9 L441.1,834.3 C445.0,833.5 448.0,831.8 449.0,828.3Z"/>
<text class="lb" x="463.5" y="860">2</text>
<path class="bk" d="M644.0,908.3 L650.2,908.3 L650.2,940.0 L644.0,940.0 L644.0,919.3 L636.1,918.9 L636.1,914.3 C640.0,913.5 643.0,911.8 644.0,908.3Z"/>
<text class="lb" x="658.5" y="940">4</text>
<path class="bk" d="M157.0,1030.3 L163.2,1030.3 L163.2,1062.0 L157.0,1062.0 L157.0,1041.3 L149.1,1040.9 L149.1,1036.3 C153.0,1035.5 156.0,1033.8 157.0,1030.3Z"/>
<path class="bk" d="M181.5,1030.3 L187.7,1030.3 L187.7,1062.0 L181.5,1062.0 L181.5,1041.3 L173.6,1040.9 L173.6,1036.3 C177.5,1035.5 180.5,1033.8 181.5,1030.3Z"/>
<path class="bk" d="M778.0,994.3 L784.2,994.3 L784.2,1026.0 L778.0,1026.0 L778.0,1005.3 L770.1,1004.9 L770.1,1000.3 C774.0,999.5 777.0,997.8 778.0,994.3Z"/>
<text class="lb" x="792.5" y="1026">6</text>
<path class="bk" d="M308.0,1105.3 L314.2,1105.3 L314.2,1137.0 L308.0,1137.0 L308.0,1116.3 L300.1,1115.9 L300.1,1111.3 C304.0,1110.5 307.0,1108.8 308.0,1105.3Z"/>
<text class="lb" x="322.5" y="1137">3</text>
<text class="lb" x="784.0" y="1170">9</text>
<path class="bk" d="M496.0,1284.3 L502.2,1284.3 L502.2,1316.0 L496.0,1316.0 L496.0,1295.3 L488.1,1294.9 L488.1,1290.3 C492.0,1289.5 495.0,1287.8 496.0,1284.3Z"/>
<text class="lb" x="510.5" y="1316">0</text>
</g>
<g id="wm">
<defs><pattern id="dots" x="5.34" y="4.5" width="61.76" height="62.00" patternUnits="userSpaceOnUse"><circle cx="0.00" cy="0.00" r="1.3" fill="#999"/><circle cx="0.00" cy="62.00" r="1.3" fill="#999"/><circle cx="61.76" cy="0.00" r="1.3" fill="#999"/><circle cx="61.76" cy="62.00" r="1.3" fill="#999"/><circle cx="0.00" cy="7.75" r="1.3" fill="#aaa"/><circle cx="61.76" cy="7.75" r="1.3" fill="#aaa"/><circle cx="0.00" cy="15.50" r="1.3" fill="#d8d8d8"/><circle cx="61.76" cy="15.50" r="1.3" fill="#d8d8d8"/><circle cx="0.00" cy="23.25" r="1.3" fill="#999"/><circle cx="61.76" cy="23.25" r="1.3" fill="#999"/><circle cx="0.00" cy="31.00" r="1.3" fill="#aaa"/><circle cx="61.76" cy="31.00" r="1.3" fill="#aaa"/><circle cx="0.00" cy="38.75" r="1.3" fill="#aaa"/><circle cx="61.76" cy="38.75" r="1.3" fill="#aaa"/><circle cx="0.00" cy="46.50" r="1.3" fill="#777"/><circle cx="61.76" cy="46.50" r="1.3" fill="#777"/><circle cx="0.00" cy="54.25" r="1.3" fill="#aaa"/><circle cx="61.76" cy="54.25" r="1.3" fill="#aaa"/><circle cx="7.72" cy="0.00" r="1.3" fill="#aaa"/><circle cx="7.72" cy="62.00" r="1.3" fill="#aaa"/><circle cx="7.72" cy="7.75" r="1.3" fill="#c0c0c0"/><circle cx="7.72" cy="15.50" r="1.3" fill="#555"/><circle cx="7.72" cy="23.25" r="1.3" fill="#999"/><circle cx="7.72" cy="31.00" r="1.3" fill="#555"/><circle cx="7.72" cy="38.75" r="1.3" fill="#c0c0c0"/><circle cx="7.72" cy="46.50" r="1.3" fill="#c0c0c0"/><circle cx="7.72" cy="54.25" r="1.3" fill="#222"/><circle cx="15.44" cy="0.00" r="1.3" fill="#d8d8d8"/><circle cx="15.44" cy="62.00" r="1.3" fill="#d8d8d8"/><circle cx="15.44" cy="7.75" r="1.3" fill="#d8d8d8"/><circle cx="15.44" cy="15.50" r="1.3" fill="#aaa"/><circle cx="15.44" cy="23.25" r="1.3" fill="#aaa"/><circle cx="15.44" cy="31.00" r="1.3" fill="#777"/><circle cx="15.44" cy="38.75" r="1.3" fill="#222"/><circle cx="15.44" cy="46.50" r="1.3" fill="#aaa"/><circle cx="15.44" cy="54.25" r="1.3" fill="#222"/><circle cx="23.16" cy="0.00" r="1.3" fill="#777"/><circle cx="23.16" cy="62.00" r="1.3" fill="#777"/><circle cx="23.16" cy="7.75" r="1.3" fill="#777"/><circle cx="23.16" cy="15.50" r="1.3" fill="#222"/><circle cx="23.16" cy="23.25" r="1.3" fill="#999"/><circle cx="23.16" cy="31.00" r="1.3" fill="#999"/><circle cx="23.16" cy="38.75" r="1.3" fill="#c0c0c0"/><circle cx="23.16" cy="46.50" r="1.3" fill="#aaa"/><circle cx="23.16" cy="54.25" r="1.3" fill="#aaa"/><circle cx="30.88" cy="0.00" r="1.3" fill="#aaa"/><circle cx="30.88" cy="62.00" r="1.3" fill="#aaa"/><circle cx="30.88" cy="7.75" r="1.3" fill="#aaa"/><circle cx="30.88" cy="15.50" r="1.3" fill="#999"/><circle cx="30.88" cy="23.25" r="1.3" fill="#999"/><circle cx="30.88" cy="31.00" r="1.3" fill="#d8d8d8"/><circle cx="30.88" cy="38.75" r="1.3" fill="#d8d8d8"/><circle cx="30.88" cy="46.50" r="1.3" fill="#c0c0c0"/><circle cx="30.88" cy="54.25" r="1.3" fill="#c0c0c0"/><circle cx="38.60" cy="0.00" r="1.3" fill="#999"/><circle cx="38.60" cy="62.00" r="1.3" fill="#999"/><circle cx="38.60" cy="7.75" r="1.3" fill="#777"/><circle cx="38.60" cy="15.50" r="1.3" fill="#999"/><circle cx="38.60" cy="23.25" r="1.3" fill="#555"/><circle cx="38.60" cy="31.00" r="1.3" fill="#c0c0c0"/><circle cx="38.60" cy="38.75" r="1.3" fill="#999"/><circle cx="38.60" cy="46.50" r="1.3" fill="#c0c0c0"/><circle cx="38.60" cy="54.25" r="1.3" fill="#999"/><circle cx="46.32" cy="0.00" r="1.3" fill="#d8d8d8"/><circle cx="46.32" cy="62.00" r="1.3" fill="#d8d8d8"/><circle cx="46.32" cy="7.75" r="1.3" fill="#c0c0c0"/><circle cx="46.32" cy="15.50" r="1.3" fill="#222"/><circle cx="46.32" cy="23.25" r="1.3" fill="#777"/><circle cx="46.32" cy="31.00" r="1.3" fill="#d8d8d8"/><circle cx="46.32" cy="38.75" r="1.3" fill="#999"/><circle cx="46.32" cy="46.50" r="1.3" fill="#d8d8d8"/><circle cx="46.32" cy="54.25" r="1.3" fill="#999"/><circle cx="54.04" cy="0.00" r="1.3" fill="#555"/><circle cx="54.04" cy="62.00" r="1.3" fill="#555"/><circle cx="54.04" cy="7.75" r="1.3" fill="#aaa"/><circle cx="54.04" cy="15.50" r="1.3" fill="#c0c0c0"/><circle cx="54.04" cy="23.25" r="1.3" fill="#777"/><circle cx="54.04" cy="31.00" r="1.3" fill="#555"/><circle cx="54.04" cy="38.75" r="1.3" fill="#999"/><circle cx="54.04" cy="46.50" r="1.3" fill="#d8d8d8"/><circle cx="54.04" cy="54.25" r="1.3" fill="#c0c0c0"/></pattern><mask id="wmmask"><rect width="1600" height="1600" fill="#000"/><g fill="#fff"><path d="M440,632 L577,632 L577,686 L529.5,686 L529.5,670 L460.5,670 L460.5,702 L554,702 L554,786 L530,818 L384,818 L384,757 L430,757 L430,780 L506.5,780 L506.5,741 L414.5,741 L414.5,665 Z"/><path d="M653,632 L755,632 Q772,640 772,670 L772,740 Q765,800 720,830 L600,830 Q576,815 576,780 L576,700 Q585,645 653,632 Z"/><path d="M770,632 L960,632 L960,672 L906,672 L906,748 L817,748 L817,840 L770,840 Z"/><path d="M906,632 L1110,632 L1110,672 L1050,672 L1033,717 L1025,741 L1001,805 L954,805 L985,672 L906,672 Z"/><path d="M630,808 L682,808 L715,915 L738,809 L800,809 L822,915 L837,809 L885,809 L855,981 L790,981 L767,905 L736,981 L652,981 Z"/><path d="M955,748 L1002,748 L1047,981 L1007,981 L1000,950 L930,950 L925,981 L877,981 Z"/><path d="M1045,807 L1095,807 L1125,860 L1150,807 L1190,807 L1150,905 L1150,981 L1100,981 L1100,905 Z"/></g><g fill="#000"><ellipse cx="676.4" cy="728" rx="44.6" ry="54" transform="rotate(25 676.4 728)"/><path d="M965,860 L990,920 L942,920 Z"/></g></mask></defs>
<rect width="1600" height="1600" fill="url(#dots)" mask="url(#wmmask)" style="mix-blend-mode:multiply"/>
</g></svg>
</body></html>
